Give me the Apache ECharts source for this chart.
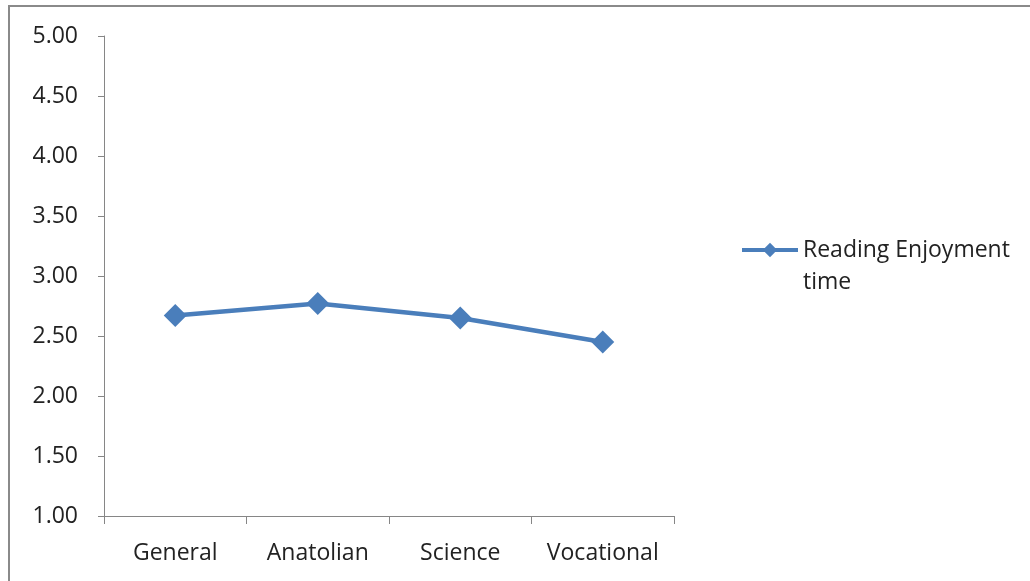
<!DOCTYPE html>
<html>
<head>
<meta charset="utf-8">
<script src="https://cdn.jsdelivr.net/npm/echarts@6/dist/echarts.min.js"></script>
<style>
html,body{margin:0;padding:0;background:#fff;}
#chart{width:1030px;height:581px;}
</style>
</head>
<body>
<div id="chart"></div>
<script>
const categories = ['General', 'Anatolian', 'Science', 'Vocational'];
const seriesName = 'Reading Enjoyment time';
const legendLines = ['', 'Reading Enjoyment', 'time'];
const values = [2.67, 2.77, 2.65, 2.45];
const yMin = 1, yMax = 5, yStep = 0.5;

const chart = echarts.init(document.getElementById('chart'), null, {renderer: 'canvas'});
const font = '"Open Sans", "Noto Sans", sans-serif';
const axisGray = '#868686';
const blue = '#4a7ebb';

chart.setOption({
  animation: false,
  backgroundColor: '#ffffff',
  textStyle: {fontFamily: font},
  grid: {left: 104, right: 356, top: 36, bottom: 65, containLabel: false},
  xAxis: {
    type: 'category',
    data: categories,
    boundaryGap: true,
    axisLine: {lineStyle: {color: axisGray, width: 1}},
    axisTick: {show: true, length: 8, lineStyle: {color: axisGray}},
    axisLabel: {color: '#222', fontSize: 23, fontFamily: font, margin: 26, interval: 0},
    splitLine: {show: false}
  },
  yAxis: {
    type: 'value',
    min: yMin, max: yMax, interval: yStep,
    axisLine: {show: true, lineStyle: {color: axisGray, width: 1}},
    axisTick: {show: true, length: 6, lineStyle: {color: axisGray}},
    axisLabel: {color: '#222', fontSize: 23, fontFamily: font, margin: 26,
      formatter: v => v.toFixed(2)},
    splitLine: {show: false}
  },
  legend: {
    show: true,
    left: 735,
    top: 197,
    orient: 'vertical',
    itemWidth: 56,
    itemHeight: 18,
    data: [seriesName],
    formatter: () => legendLines.join('\n'),
    lineStyle: {width: 4, color: blue},
    itemStyle: {color: blue},
    textStyle: {color: '#222', fontSize: 23, fontFamily: font, lineHeight: 32}
  },
  series: [{
    name: seriesName,
    type: 'line',
    data: values,
    symbol: 'diamond',
    symbolSize: 23,
    showAllSymbol: true,
    lineStyle: {color: blue, width: 4.5},
    itemStyle: {color: blue}
  }],
  graphic: [{
    type: 'rect',
    shape: {x: 9, y: 6, width: 1100, height: 700},
    style: {fill: 'none', stroke: '#8a8a8a', lineWidth: 2},
    silent: true,
    z: 100
  }]
});
</script>
</body>
</html>
